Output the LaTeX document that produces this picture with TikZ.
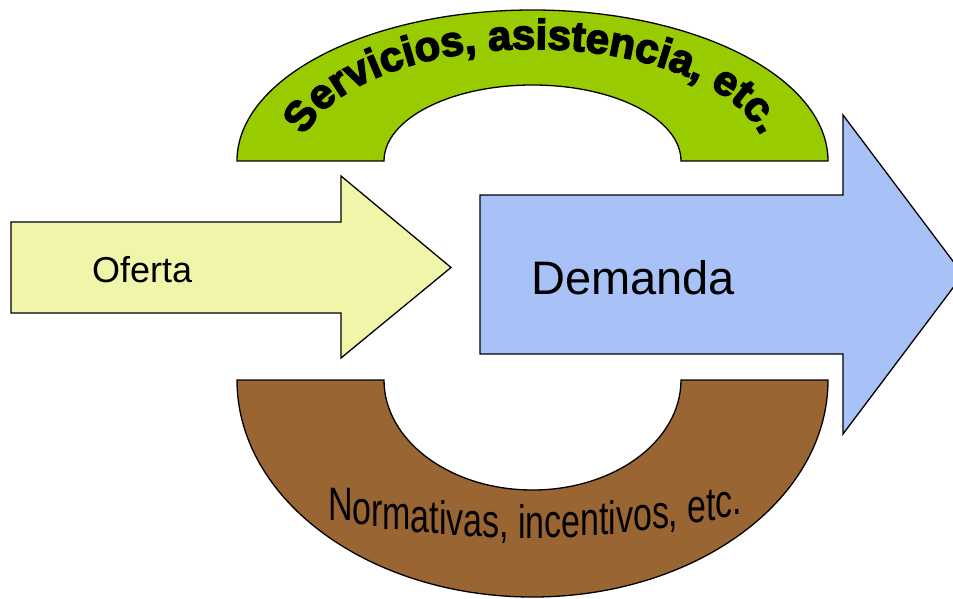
\documentclass[tikz,border=0pt]{standalone}
\usepackage{fontspec}
\setmainfont{Liberation Sans}
\newfontfamily\servfont{Liberation Sans}[FakeBold=3.5]
\newfontfamily\normfont{Liberation Sans}
\usetikzlibrary{decorations.text}
\definecolor{archgreen}{HTML}{99CC00}
\definecolor{archbrown}{HTML}{996633}
\definecolor{ofyellow}{HTML}{F1F5A9}
\definecolor{demblue}{HTML}{A8C1F6}
\tikzset{
  shapeline/.style={draw=black, line width=1.3pt, line join=miter},
  lbl/.style={inner sep=0pt, anchor=base west, text=black}
}
\begin{document}
\begin{tikzpicture}[x=1pt, y=-1pt]
\useasboundingbox (0,0) rectangle (953,599);
\clip (0,0) rectangle (953,599);
% top arch
\path[shapeline, fill=archgreen]
  (237,161) arc[start angle=180, end angle=360, x radius=295.5, y radius=151]
  -- (681,161) arc[start angle=0, end angle=-180, x radius=148.5, y radius=76]
  -- cycle;
% bottom arch
\path[shapeline, fill=archbrown]
  (237,380) arc[start angle=180, end angle=0, x radius=295.5, y radius=217]
  -- (681,380) arc[start angle=0, end angle=180, x radius=148.5, y radius=110]
  -- cycle;
% Oferta arrow
\path[shapeline, fill=ofyellow]
  (11,222) -- (341,222) -- (341,176) -- (451,267.5) -- (341,358) -- (341,313) -- (11,313) -- cycle;
% Demanda arrow
\path[shapeline, fill=demblue]
  (480,195) -- (843,195) -- (843,115) -- (963,274.5) -- (843,434) -- (843,354) -- (480,354) -- cycle;
% labels
\node[lbl, font=\fontsize{36}{36}\selectfont] (oferta) at (92,282) {Oferta};
\node[lbl, font=\fontsize{47}{47}\selectfont] (demanda) at (531,294) {Demanda};
% arched text top
\path[decorate, decoration={text along path, text align=center,
  text={|\servfont\bfseries\fontsize{42}{42}\selectfont|Servicios, asistencia, etc.}}]
  (299,161) arc[start angle=180, end angle=360, x radius=234, y radius=112];
% curved text bottom
\path[decorate, decoration={text effects along path, text align=center,
  text={Normativas, incentivos, etc.},
  text effects/.cd, every character/.style={font=\normfont\fontsize{34}{34}\selectfont, inner sep=0pt, anchor=base, yscale=1.38, text=black}}]
  (322,517) .. controls (460,546) and (605,546) .. (748,512);
\end{tikzpicture}
\end{document}
